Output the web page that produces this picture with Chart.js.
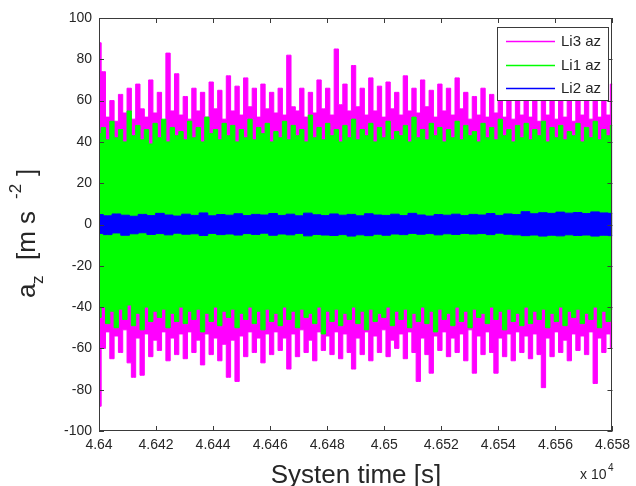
<!DOCTYPE html>
<html>
<head>
<meta charset="utf-8">
<script src="https://cdn.jsdelivr.net/npm/chart.js@4.4.0/dist/chart.umd.min.js"></script>
<style>
  body { margin: 0; background: #fff; }
  canvas { display: block; }
</style>
</head>
<body>
<canvas id="chart" width="636" height="486"></canvas>
<script>
// envelope of each signal at evenly spaced times (x 10^4 s)
const li3High = [
  88,74,52,60,50,63,54,66,51,68,56,52,70,54,64,50,83,55,73,53,
  62,51,66,55,64,52,69,56,65,51,72,55,67,53,71,57,66,52,68,56,
  64,54,66,53,82,57,55,66,52,64,54,70,56,66,53,85,58,68,55,77,
  57,66,53,71,55,67,52,69,56,64,53,72,55,66,54,70,57,65,52,68,
  55,66,53,71,56,64,51,62,53,66,52,63,54,69,52,64,51,62,53,66,
  52,61,50,63,53,60,51,64,52,61,50,62,53,60,51,63,52,60,53,68
]
const li3Low = [
  -88,-60,-52,-65,-54,-62,-51,-67,-74,-55,-73,-53,-64,-56,-61,-52,-66,-55,-63,-53,
  -65,-52,-62,-56,-68,-53,-63,-55,-66,-58,-74,-56,-76,-54,-64,-52,-62,-55,-67,-53,
  -63,-52,-61,-55,-70,-53,-64,-51,-62,-56,-66,-52,-61,-54,-63,-52,-65,-53,-62,-70,
  -55,-63,-52,-66,-54,-62,-51,-64,-56,-60,-53,-65,-52,-62,-76,-55,-63,-72,-54,-61,
  -52,-64,-55,-62,-53,-66,-51,-72,-54,-63,-52,-62,-72,-55,-64,-53,-66,-52,-62,-54,
  -65,-53,-63,-79,-55,-64,-52,-62,-56,-66,-53,-61,-54,-63,-52,-77,-55,-62,-53,-60
]
const li1High = [
  44,47,41,50,42,46,40,55,43,48,41,46,39,49,42,51,40,47,43,45,
  41,50,42,47,40,52,44,46,41,49,43,48,40,46,42,51,41,47,44,49,
  40,45,42,50,41,48,43,46,40,53,42,47,41,49,43,46,40,48,42,51,
  41,46,43,49,40,47,42,50,41,45,43,48,40,52,42,46,41,49,43,47,
  40,46,42,50,41,48,43,45,40,49,42,47,41,51,43,46,40,48,42,49,
  41,46,43,50,40,47,42,48,41,45,43,49,40,47,42,50,41,46,43,48
]
const li1Low = [
  -45,-40,-48,-42,-50,-41,-46,-39,-49,-43,-51,-40,-47,-42,-45,-41,-50,-43,-47,-40,
  -48,-42,-46,-41,-52,-43,-47,-40,-49,-42,-45,-41,-50,-43,-46,-40,-48,-42,-51,-41,
  -47,-43,-49,-40,-46,-42,-50,-41,-45,-43,-48,-40,-53,-42,-47,-41,-49,-43,-46,-40,
  -48,-42,-51,-41,-47,-43,-45,-40,-49,-42,-46,-41,-50,-43,-47,-40,-48,-42,-52,-41,
  -46,-43,-49,-40,-47,-42,-50,-41,-45,-43,-48,-40,-46,-42,-51,-41,-47,-43,-49,-40,
  -48,-42,-46,-41,-50,-43,-47,-40,-49,-42,-45,-41,-48,-43,-46,-40,-50,-42,-47,-41
]
const li2High = [
  4.8,4.2,5.1,4.5,4.0,4.9,4.3,5.4,4.6,4.1,5.0,4.4,5.6,4.2,4.8,4.5,5.2,4.3,4.9,4.6,
  5.3,4.4,5.0,4.2,5.5,4.7,4.3,5.1,4.5,4.9,4.2,5.2,4.6,4.4,5.0,4.3,5.4,4.6,4.1,4.8,
  4.5,5.0,4.3,4.9,4.6,5.3,4.4,5.1,4.8,6.2,5.2,5.7,5.4,6.0,5.5,5.8,5.3,6.1,5.6,5.4
]
const li2Low = [
  -4.3,-4.9,-4.1,-5.2,-4.5,-4.0,-4.8,-4.4,-5.0,-4.2,-4.7,-4.5,-5.3,-4.3,-4.9,-4.6,-5.1,-4.4,-4.8,-4.2,
  -5.2,-4.6,-5.0,-4.3,-5.5,-4.8,-5.1,-5.3,-4.9,-5.6,-5.0,-5.4,-4.7,-5.2,-4.6,-4.9,-4.3,-4.7,-4.4,-5.0,
  -4.5,-4.8,-4.3,-4.6,-4.4,-4.9,-4.2,-4.7,-5.0,-5.4,-5.1,-5.6,-5.2,-5.5,-5.0,-5.3,-5.1,-5.6,-5.2,-5.4
]

const tStart = 4.64
const tEnd = 4.658
const xStep = 0.002
const yMin = -100
const yMax = 100
const yStep = 20

const legendNames = ['Li3 az', 'Li1 az', 'Li2 az']
const colors = ['#ff00ff', '#00ff00', '#0000ff']

function points(vals){
  const n = vals.length - 1
  return vals.map((v, i) => ({ x: tStart + (tEnd - tStart) * i / n, y: v }))
}

function band(label, color, hi, lo, order){
  return [
    { label, data: points(hi), borderColor: color, backgroundColor: color,
      borderWidth: 1, fill: '+1', order, stepped: 'middle' },
    { label: label + ' low', data: points(lo), borderColor: color, backgroundColor: color,
      borderWidth: 1, fill: false, order, stepped: 'middle' },
  ]
}

const datasets = [
  ...band(legendNames[0], colors[0], li3High, li3Low, 3),
  ...band(legendNames[1], colors[1], li1High, li1Low, 2),
  ...band(legendNames[2], colors[2], li2High, li2Low, 1),
]

const textColor = '#262626'
const axisColor = '#3a3a3a'

const matlabFrame = {
  id: 'matlabFrame',
  afterDatasetsDraw(chart){
    const { ctx, chartArea: a, scales: { x, y } } = chart
    ctx.save()
    ctx.strokeStyle = axisColor
    ctx.lineWidth = 1
    ctx.beginPath()
    x.ticks.forEach(t => {
      const px = Math.round(x.getPixelForValue(t.value)) + 0.5
      ctx.moveTo(px, a.bottom); ctx.lineTo(px, a.bottom - 5)
      ctx.moveTo(px, a.top); ctx.lineTo(px, a.top + 5)
    })
    y.ticks.forEach(t => {
      const py = Math.round(y.getPixelForValue(t.value)) + 0.5
      ctx.moveTo(a.left, py); ctx.lineTo(a.left + 5, py)
      ctx.moveTo(a.right, py); ctx.lineTo(a.right - 5, py)
    })
    ctx.stroke()
    ctx.strokeRect(Math.round(a.left) + 0.5, Math.round(a.top) + 0.5,
      Math.round(a.right - a.left) - 1, Math.round(a.bottom - a.top) - 1)

    // legend box
    const lx = 497, ly = 27, lw = 112, lh = 74
    ctx.fillStyle = '#fff'
    ctx.fillRect(lx, ly, lw, lh)
    ctx.strokeRect(lx + 0.5, ly + 0.5, lw - 1, lh - 1)
    ctx.font = '15px "Liberation Sans", Arial, sans-serif'
    ctx.textBaseline = 'middle'
    ctx.textAlign = 'left'
    legendNames.forEach((name, i) => {
      const yy = 41 + i * 23.5
      ctx.strokeStyle = colors[i]
      ctx.lineWidth = 1.5
      ctx.beginPath()
      ctx.moveTo(506, Math.round(yy) + 0.5)
      ctx.lineTo(555, Math.round(yy) + 0.5)
      ctx.stroke()
      ctx.fillStyle = textColor
      ctx.fillText(name, 561, yy + 1)
    })
    ctx.restore()
  },
  afterDraw(chart){
    const { ctx } = chart
    ctx.save()
    ctx.fillStyle = textColor
    ctx.textBaseline = 'alphabetic'

    // x title
    ctx.font = '26px "Liberation Sans", Arial, sans-serif'
    ctx.textAlign = 'center'
    ctx.fillText('Systen time [s]', 356, 483)

    // x 10^4 multiplier
    ctx.textAlign = 'left'
    ctx.font = '14px "Liberation Sans", Arial, sans-serif'
    ctx.fillText('x 10', 580, 479)
    ctx.font = '10px "Liberation Sans", Arial, sans-serif'
    ctx.fillText('4', 608, 471)

    // y title: a_z [m s^-2]
    ctx.translate(35, 298)
    ctx.rotate(-Math.PI / 2)
    ctx.font = '26px "Liberation Sans", Arial, sans-serif'
    ctx.fillText('a', 0, 0)
    ctx.fillText('[m s', 38, 0)
    ctx.fillText(']', 122, 0)
    ctx.font = '17px "Liberation Sans", Arial, sans-serif'
    ctx.fillText('z', 14, 8)
    ctx.fillText('-2', 99, -14)
    ctx.restore()
  }
}

new Chart(document.getElementById('chart'), {
  type: 'line',
  data: { datasets },
  options: {
    responsive: false,
    animation: false,
    events: [],
    layout: { padding: { top: 18, right: 20, left: 0, bottom: 0 } },
    elements: {
      point: { radius: 0 },
      line: { tension: 0 },
    },
    plugins: {
      legend: { display: false },
      tooltip: { enabled: false },
    },
    scales: {
      x: {
        type: 'linear',
        min: tStart,
        max: tEnd,
        grid: { display: false, drawTicks: false },
        border: { display: false },
        ticks: {
          stepSize: xStep,
          padding: 6,
          maxRotation: 0,
          autoSkip: false,
          color: textColor,
          font: { family: '"Liberation Sans", Arial, sans-serif', size: 14 },
          callback: v => String(+v.toFixed(3)),
        },
        afterFit(s){ s.height = 55 },
      },
      y: {
        min: yMin,
        max: yMax,
        grid: { display: false, drawTicks: false },
        border: { display: false },
        ticks: {
          stepSize: yStep,
          padding: 7,
          color: textColor,
          font: { family: '"Liberation Sans", Arial, sans-serif', size: 14 },
        },
        afterFit(s){ s.width = 99 },
      },
    },
  },
  plugins: [matlabFrame],
})
</script>
</body>
</html>
